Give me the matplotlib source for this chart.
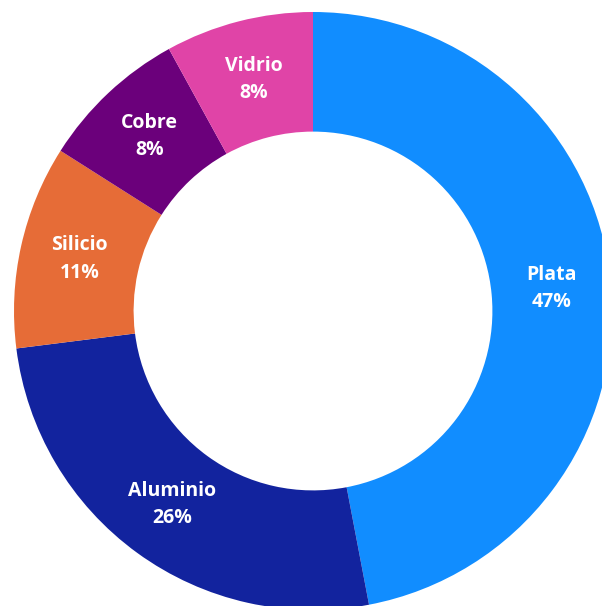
import matplotlib.pyplot as plt
import numpy as np

categories = ["Plata", "Aluminio", "Silicio", "Cobre", "Vidrio"]
values = [47, 26, 11, 8, 8]
colors = ["#118DFF", "#12239E", "#E66C37", "#6B007B", "#E044A7"]

fig = plt.figure(figsize=(6.02, 6.06), dpi=100)
# center of donut at (313, 311) px from top-left, outer radius ~299 px
r_px = 299
cx, cy = 313, 606 - 311
ax = fig.add_axes([(cx - r_px) / 602, (cy - r_px) / 606, 2 * r_px / 602, 2 * r_px / 606])

wedges, _ = ax.pie(values, colors=colors, startangle=90, counterclock=False,
                   radius=1, wedgeprops=dict(width=0.4, linewidth=0))
ax.set_xlim(-1, 1)
ax.set_ylim(-1, 1)
ax.set_aspect("equal")
ax.axis("off")

for w, name, v in zip(wedges, categories, values):
    ang = np.deg2rad((w.theta1 + w.theta2) / 2)
    x, y = 0.8 * np.cos(ang), 0.8 * np.sin(ang)
    ax.text(x, y, f"{name}\n{v}%", ha="center", va="center", color="white",
            fontsize=14, fontweight="bold", family="Open Sans", linespacing=1.5)

fig.savefig("out.png", dpi=100)
